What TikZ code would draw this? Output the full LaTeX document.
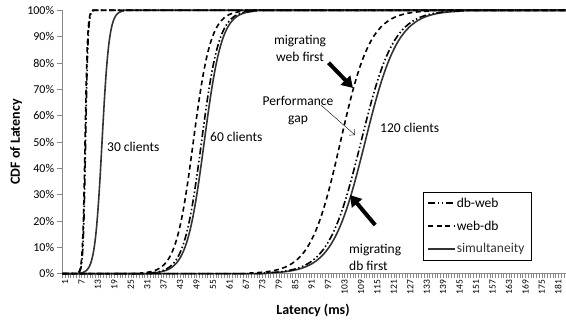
\documentclass[tikz,border=0pt]{standalone}
\usepackage{fontspec}
\setmainfont{Carlito}
\usetikzlibrary{arrows.meta}
\definecolor{axis-gray}{gray}{0.53}
\definecolor{curve-gray}{gray}{0.2}
% logistic CDF: mean, spread, style
\newcommand{\cdfcurve}[3]{%
  \draw[#3] (0,0) -- ({#1-6*#2},0) -- plot[domain={#1-6*#2}:{#1+6*#2},samples=70,smooth] (\x,{1/(1+exp(-(\x-#1)/#2))}) -- ({#1+6*#2},1) -- (184,1);}

\begin{document}
\begin{tikzpicture}[x=1pt,y=1pt,font=\fontsize{13.5}{17}\selectfont,
    dbweb/.style={line width=1.6pt,line join=round,dash pattern=on 7pt off 2.5pt on 1.5pt off 2.5pt on 1.5pt off 2.5pt},
    webdb/.style={line width=1.6pt,line join=round,dash pattern=on 5pt off 3.5pt},
    simul/.style={line width=1.6pt,line join=round,curve-gray},
    bigarrow/.style={line width=4pt,-{Triangle[length=11pt,width=13pt]}},
    tick label/.style={font=\fontsize{9.5}{9.5}\selectfont}]
	\useasboundingbox (0,0) rectangle (566,324);
	\begin{scope}[shift={(62.3,50.3)},x=2.74pt,y=263.4pt]
		\foreach \i in {0,...,184}{										% category ticks
			\draw [axis-gray] (\i,0) -- ++(0,-4pt);
		}
		\foreach \i in {1,7,...,181}{										% latency labels
			\node [tick label,rotate=90,anchor=east,inner sep=1pt] (xl\i) at ([yshift=-5pt]\i,0) {\i};
		}
		\foreach \p [evaluate=\p as \pc using int(\p*10)] in {0,...,10}{			% percent ticks
			\draw [axis-gray] (0,\p/10) -- ++(-5pt,0) node [left,black,font=\fontsize{12}{12}\selectfont,inner sep=3pt] (yl\p) {\pc\%};
		}
		\draw [axis-gray] (0,0) -- (0,1);								% vertical axis
		\draw [axis-gray] (0,0) -- (184,0);								% horizontal axis
		\cdfcurve{14.5}{1.3}{simul}										% 30 clients
		\cdfcurve{8.5}{0.45}{dbweb}
		\cdfcurve{8.3}{0.45}{webdb}
		\cdfcurve{51.8}{3.2}{simul}										% 60 clients
		\cdfcurve{50.8}{3.2}{dbweb}
		\cdfcurve{47.8}{3.2}{webdb}
		\cdfcurve{110.5}{6}{simul}										% 120 clients
		\cdfcurve{109}{6}{dbweb}
		\cdfcurve{101.5}{5.5}{webdb}
	\end{scope}
	\node [anchor=west,inner sep=1pt] (c30) at (106,177) {30 clients};			% group labels
	\node [anchor=west,inner sep=1pt] (c60) at (209,187) {60 clients};
	\node [anchor=west,inner sep=1pt] (c120) at (379,196) {120 clients};
	\node [align=center] (webfirst) at (300,276) {migrating\\web first};		% annotations
	\coordinate (webtip) at (353,236);
	\draw [bigarrow] ([xshift=-1pt,yshift=2pt]webfirst.south east) -- (webtip);
	\node [align=center] (gap) at (298,213) {Performance\\gap};
	\coordinate (gaptip) at (355,189);
	\draw [-{Straight Barb[length=4pt]},thin] ([xshift=-16pt,yshift=6pt]gap.east) -- (gaptip);
	\node [align=left,anchor=north west,inner sep=1pt] (dbfirst) at (348,81) {migrating\\db first};
	\coordinate (dbtip) at (350,129);
	\draw [bigarrow] ([yshift=18pt]dbfirst.north) -- (dbtip);
	\node [draw,thick,minimum width=108pt,minimum height=68pt] (legend) at (477,98) {};	% legend
	\draw [dbweb] (428,121) -- (455,121) node [right,inner sep=1pt] (lgdbweb) {db-web};
	\draw [webdb] (428,98) -- (455,98) node [right,inner sep=1pt] (lgwebdb) {web-db};
	\draw [simul] (428,75) -- (455,75) node [right,inner sep=1pt] (lgsimul) {simultaneity};
	\node [rotate=90,font=\fontsize{14}{14}\selectfont\bfseries] (ytitle) at (16,182) {CDF of Latency};	% axis titles
	\node [font=\fontsize{14}{14}\selectfont\bfseries] (xtitle) at (313,14) {Latency (ms)};
\end{tikzpicture}
\end{document}
